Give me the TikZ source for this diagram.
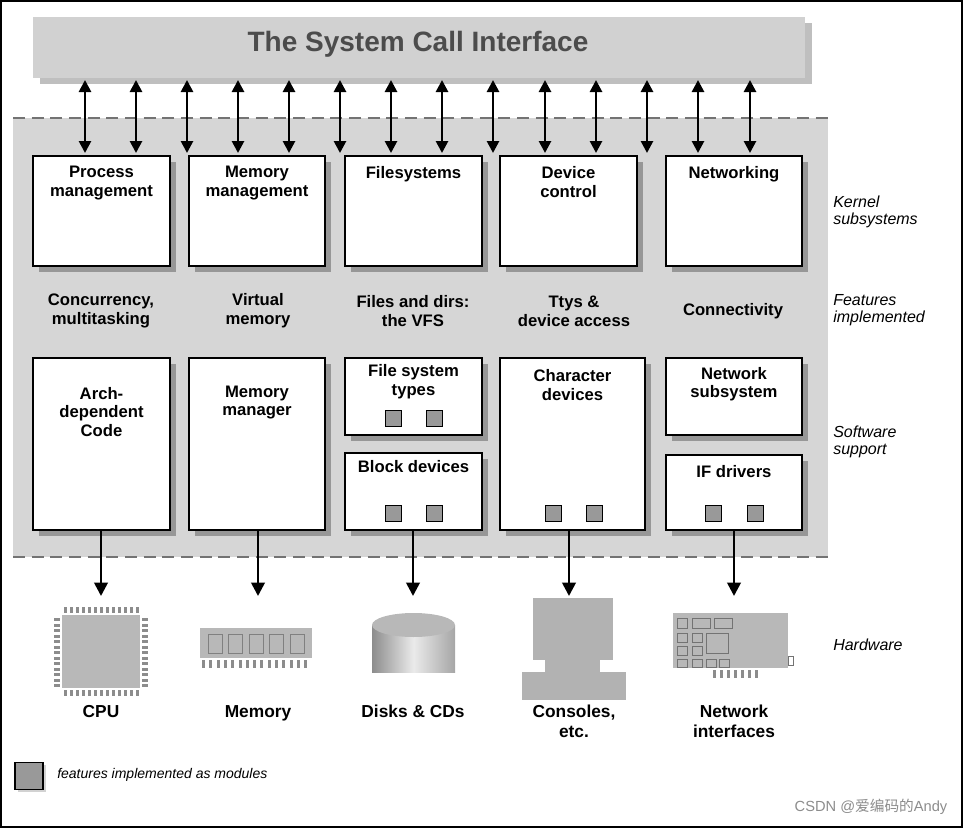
\documentclass[tikz,border=0pt]{standalone}
\usepackage{fontspec}
\setmainfont{Liberation Sans}
\newfontfamily\cjk{Noto Sans CJK SC}
\usepackage{tikz}
\usetikzlibrary{shadows,arrows.meta}

\begin{document}
\begin{tikzpicture}[x=0.75pt,y=-0.75pt,
            box/.style 2 args={shape=rectangle, draw, fill=white, line width=1pt,
                minimum width=#1*0.75pt, minimum height=#2*0.75pt, inner sep=0pt,
                drop shadow={shadow xshift=4.5pt, shadow yshift=-4.5pt, fill=black!65}},
            txt/.style={font=\fontsize{12.5}{14}\selectfont\bfseries, align=center, inner sep=0pt},
            side/.style={font=\fontsize{12}{13}\selectfont\itshape, align=left, anchor=west, inner sep=0pt},
            hw/.style={font=\fontsize{13}{14.5}\selectfont\bfseries, align=center, inner sep=0pt, anchor=north},
            mod/.style={shape=rectangle, draw, fill=black!40, minimum size=12pt, inner sep=0pt, line width=0.7pt},
            call/.style={line width=2pt, {Triangle[length=9pt,width=9pt]}-{Triangle[length=9pt,width=9pt]}},
            down/.style={line width=2pt, -{Triangle[length=10pt,width=10pt]}}]
        \useasboundingbox (0,0) rectangle (963,828);
        \draw[line width=1pt] (1,1) rectangle (962,827);

        % kernel area
        \fill[black!16] (13,118) rectangle (828,557);
        \draw[black!55, line width=1.2pt, dash pattern=on 9pt off 5pt] (13,118) -- (828,118);
        \draw[black!55, line width=1.2pt, dash pattern=on 9pt off 5pt] (13,557) -- (828,557);

        % system call interface
        \node[shape=rectangle, fill=black!18, minimum width=772*0.75pt, minimum height=61*0.75pt,
              drop shadow={shadow xshift=5pt, shadow yshift=-5pt, fill=black!50}] (sci) at (419,47) {};
        \node[font=\fontsize{21}{22}\selectfont\bfseries, text=black!70] at (418,44) {The System Call Interface};

        % kernel subsystems
        \node[box={137}{110}] (proc) at (101.5,211) {};
        \node[box={136}{110}] (mm)   at (257,211) {};
        \node[box={137}{110}] (fs)   at (413.5,211) {};
        \node[box={137}{110}] (dev)  at (568.5,211) {};
        \node[box={136}{110}] (net)  at (734,211) {};
        \node[txt, anchor=north] at ([yshift=-8pt]proc.north) {Process\\management};
        \node[txt, anchor=north] at ([yshift=-8pt]mm.north) {Memory\\management};
        \node[txt, anchor=north] at ([yshift=-8pt]fs.north) {Filesystems};
        \node[txt, anchor=north] at ([yshift=-8pt]dev.north) {Device\\control};
        \node[txt, anchor=north] at ([yshift=-8pt]net.north) {Networking};

        % arrows from the interface
        \foreach \x [count=\i] in {85,136,187,238,289,340,391,442,493,545,596,647,698,750} {
            \coordinate (up\i) at (\x,80);
            \coordinate (lo\i) at (\x,153);
            \draw[call] (up\i) -- (lo\i);
        }

        % features
        \node[txt] (feat1) at (101,311) {Concurrency,\\multitasking};
        \node[txt] (feat2) at (258,311) {Virtual\\memory};
        \node[txt] (feat3) at (413,311) {Files and dirs:\\the VFS};
        \node[txt] (feat4) at (574,311) {Ttys \&\\device access};
        \node[txt] (feat5) at (733,311) {Connectivity};

        % software support
        \node[box={137}{172}] (arch)  at (101.5,444) {};
        \node[box={136}{172}] (mman)  at (257,444) {};
        \node[box={137}{77}]  (fstyp) at (413.5,396.5) {};
        \node[box={137}{77}]  (blk)   at (413.5,491.5) {};
        \node[box={145}{172}] (chr)   at (572.5,444) {};
        \node[box={136}{77}]  (nsub)  at (734,396.5) {};
        \node[box={136}{75}]  (ifdrv) at (734,492.5) {};
        \node[txt, anchor=north] at ([yshift=-22pt]arch.north) {Arch-\\dependent\\Code};
        \node[txt, anchor=north] at ([yshift=-21pt]mman.north) {Memory\\manager};
        \node[txt, anchor=north] at ([yshift=-5pt]fstyp.north) {File system\\types};
        \node[txt, anchor=north] at ([yshift=-6pt]blk.north) {Block devices};
        \node[txt, anchor=north] at ([yshift=-9pt]chr.north) {Character\\devices};
        \node[txt, anchor=north] at ([yshift=-7pt]nsub.north) {Network\\subsystem};
        \node[txt, anchor=north] at ([yshift=-8pt]ifdrv.north) {IF drivers};
        \foreach \x/\y in {393/418,434/418,393/513,434/513,553/513,594/513,713/513,755/513}
            \node[mod] at (\x,\y) {};

        % side labels
        \node[side] at (833,212) {Kernel\\subsystems};
        \node[side] at (833,310) {Features\\implemented};
        \node[side] at (833,442) {Software\\support};
        \node[side] at (833,645) {Hardware};

        % hardware
        \coordinate (hw1) at (101,596);
        \coordinate (hw2) at (258,596);
        \coordinate (hw3) at (413,596);
        \coordinate (hw4) at (569,596);
        \coordinate (hw5) at (734,596);
        \draw[down] (arch.south -| hw1) -- (hw1);
        \draw[down] (mman.south -| hw2) -- (hw2);
        \draw[down] (blk.south -| hw3) -- (hw3);
        \draw[down] (chr.south -| hw4) -- (hw4);
        \draw[down] (ifdrv.south -| hw5) -- (hw5);

        % cpu
        \fill[black!28] (62,615) rectangle (140,688);
        \foreach \t in {0,...,12} {
            \fill[black!45] (64+\t*6,607) rectangle (67+\t*6,613);
            \fill[black!45] (64+\t*6,690) rectangle (67+\t*6,696);
            \fill[black!45] (54,618+\t*5.5) rectangle (60,621+\t*5.5);
            \fill[black!45] (142,618+\t*5.5) rectangle (148,621+\t*5.5);
        }
        % memory
        \fill[black!28] (200,628) rectangle (312,658);
        \foreach \t in {0,...,4}
            \draw[black!50, line width=0.6pt] (208+\t*20.5,634) rectangle (222+\t*20.5,653);
        \foreach \t in {0,...,14}
            \fill[black!45] (202+\t*7.3,660) rectangle (205+\t*7.3,668);
        % disk
        \shade[left color=black!45, right color=black!35, middle color=black!8] (372,625) rectangle (455,672);
        \shade[left color=black!45, right color=black!35, middle color=black!8] (372,672) arc[start angle=180, end angle=360, x radius=41.5, y radius=13];
        \fill[black!28] (413.5,625) ellipse[x radius=41.5, y radius=12];
        % console
        \fill[black!30] (533,598) rectangle (613,660);
        \fill[black!30] (545,660) rectangle (600,672);
        \fill[black!30] (522,672) rectangle (626,700);
        % network card
        \fill[black!28] (673,613) rectangle (788,668);
        \foreach \t in {0,...,6}
            \fill[black!45] (713+\t*7,670) rectangle (716+\t*7,678);
        \foreach \x/\y/\w/\h in {677/618/10/10,692/618/18/10,714/618/18/10,677/633/10/9,692/633/10/9,
                                 677/646/10/9,692/646/10/9,706/633/22/20,677/659/10/8,692/659/10/8,706/659/10/8,719/659/10/8}
            \draw[black!55, line width=0.6pt] (\x,\y) rectangle ++(\w,\h);
        \draw[black!55, line width=0.6pt] (788,656) rectangle (793,665);

        \node[hw] at (101,705) {CPU};
        \node[hw] at (258,705) {Memory};
        \node[hw] at (413,705) {Disks \& CDs};
        \node[hw] at (574,705) {Consoles,\\etc.};
        \node[hw] at (734,705) {Network\\interfaces};

        % legend
        \node[shape=rectangle, draw, line width=1pt, fill=black!40, minimum width=28*0.75pt, minimum height=27*0.75pt,
              drop shadow={shadow xshift=2pt, shadow yshift=-2pt, fill=black!35}] (legbox) at (29,776) {};
        \node[side, font=\fontsize{10.5}{12}\selectfont\itshape] at (57,775) {features implemented as modules};

        \node[font=\fontsize{11}{12}\selectfont, text=black!45, anchor=east] at (952,807) {CSDN @{\cjk 爱编码的}Andy};
    \end{tikzpicture}
\end{document}
